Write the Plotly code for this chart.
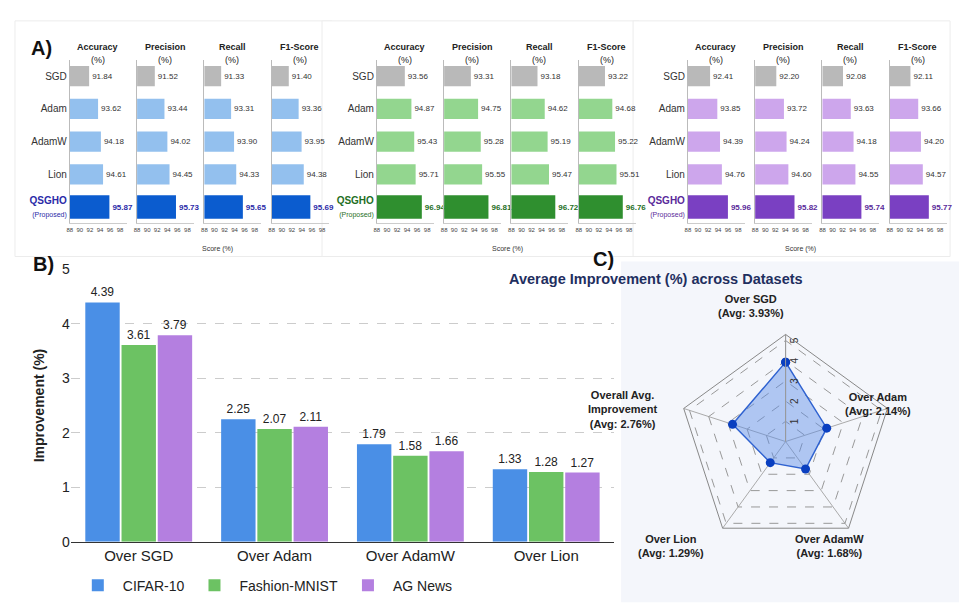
import plotly.graph_objects as go

W, H = 967, 611
metrics = ["Accuracy", "Precision", "Recall", "F1-Score"]
optimizers = ["SGD", "Adam", "AdamW", "Lion", "QSGHO"]
cifar = [[91.84, 91.52, 91.33, 91.40], [93.62, 93.44, 93.31, 93.36], [94.18, 94.02, 93.90, 93.95],
         [94.61, 94.45, 94.33, 94.38], [95.87, 95.73, 95.65, 95.69]]
fmnist = [[93.56, 93.31, 93.18, 93.22], [94.87, 94.75, 94.62, 94.68], [95.43, 95.28, 95.19, 95.22],
          [95.71, 95.55, 95.47, 95.51], [96.94, 96.81, 96.72, 96.76]]
agnews = [[92.41, 92.20, 92.08, 92.11], [93.85, 93.72, 93.63, 93.66], [94.39, 94.24, 94.18, 94.20],
          [94.76, 94.60, 94.55, 94.57], [95.96, 95.82, 95.74, 95.77]]
score_ticks = [88, 90, 92, 94, 96, 98]

comparisons = ["Over SGD", "Over Adam", "Over AdamW", "Over Lion"]
imp_cifar = [4.39, 2.25, 1.79, 1.33]
imp_fmnist = [3.61, 2.07, 1.58, 1.28]
imp_agnews = [3.79, 2.11, 1.66, 1.27]

radar_labels = ["Over SGD<br>(Avg: 3.93%)", "Over Adam<br>(Avg: 2.14%)", "Over AdamW<br>(Avg: 1.68%)",
                "Over Lion<br>(Avg: 1.29%)", "Overall Avg.<br>Improvement<br>(Avg: 2.76%)"]
radar_vals = [3.93, 2.14, 1.68, 1.29, 2.76]

def px(x): return x / W
def py(y): return 1 - y / H

fig = go.Figure()
FONT = "Liberation Sans"
groups = [(cifar, "#b9b9b9", "#93c0ee", "#0b5ccf", "#2a2aa8", 0),
          (fmnist, "#b9b9b9", "#93d68f", "#2f8f2f", "#1f6f1f", 308),
          (agnews, "#b9b9b9", "#cda6ec", "#7a40c2", "#5a2a9a", 620)]
shapes, annotations = [], []
k = 0
for data, cs, cm, cq, ct, off in groups:
    shapes.append(dict(type="rect", xref="paper", yref="paper", x0=px(off + 4), x1=px(off + 322),
                       y0=py(247), y1=py(5), fillcolor="white", line=dict(color="#ececec", width=1), layer="below"))
    for m in range(4):
        k += 1
        xa, ya = ("x%d" % k if k > 1 else "x"), ("y%d" % k if k > 1 else "y")
        vals = [data[i][m] for i in range(5)]
        colors = [cs, cm, cm, cm, cq]
        texts = [f"{v:.2f}" for v in vals[:4]] + [f"<b>{vals[4]:.2f}</b>"]
        fig.add_trace(go.Bar(x=vals, y=optimizers, orientation="h", marker=dict(color=colors, line=dict(width=0)),
                             width=[0.62] * 4 + [0.72],
                             text=texts, textposition="outside", cliponaxis=False,
                             textfont=dict(size=8, color=["#333"] * 4 + [ct], family=FONT),
                             xaxis=xa, yaxis=ya, showlegend=False))
        x0 = off + 59 + m * 67.5
        d = dict(domain=[px(x0), px(x0 + 57)], range=[88, 99.3], tickvals=score_ticks,
                 tickfont=dict(size=6, color="#444"), showgrid=False, zeroline=False,
                 showline=True, linecolor="#ccc", ticks="", anchor=ya)
        fig.layout["xaxis%d" % k if k > 1 else "xaxis"] = d
        qlab = (f"<span style='color:{ct}'><b>QSGHO</b></span><br>"
                f"<span style='font-size:7px;color:{ct}'>(Proposed)</span>")
        yd = dict(domain=[py(213), py(45)], autorange="reversed", showline=True, linecolor="#bbb",
                  showticklabels=(m == 0), tickfont=dict(size=10, color="#333"), anchor=xa, ticks="",
                  tickmode="array", tickvals=optimizers, ticktext=optimizers[:4] + [qlab])
        fig.layout["yaxis%d" % k if k > 1 else "yaxis"] = yd
        annotations.append(dict(x=px(x0 + 28), y=py(25), xref="paper", yref="paper",
                                text=f"<b>{metrics[m]}</b>", xanchor="center",
                                showarrow=False, font=dict(size=9, color="#222")))
        annotations.append(dict(x=px(x0 + 28), y=py(38), xref="paper", yref="paper",
                                text="(%)", xanchor="center",
                                showarrow=False, font=dict(size=9, color="#222")))
    annotations.append(dict(x=px(off + 190), y=py(239), xref="paper", yref="paper", text="Score (%)",
                            showarrow=False, font=dict(size=7, color="#333")))

# Panel B
for vals, name, col in [(imp_cifar, "CIFAR-10", "#4a8fe6"), (imp_fmnist, "Fashion-MNIST", "#6cc263"),
                        (imp_agnews, "AG News", "#b47fe0")]:
    fig.add_trace(go.Bar(x=comparisons, y=vals, name=name, marker=dict(color=col, line=dict(width=0)),
                         text=[f"{v:.2f}" for v in vals], textposition="outside", cliponaxis=False,
                         textfont=dict(size=12, color="#222", family=FONT), xaxis="x13", yaxis="y13"))
fig.layout.xaxis13 = dict(domain=[px(60), px(605)], anchor="y13", tickfont=dict(size=15, color="#222"),
                          showline=True, linecolor="#333", ticks="")
fig.layout.yaxis13 = dict(domain=[py(540), py(260)], anchor="x13", range=[0, 5], dtick=1,
                          showgrid=True, gridcolor="#ccc", griddash="dash", zeroline=False,
                          tickfont=dict(size=14, color="#222"), showline=False,
                          title=dict(text="<b>Improvement (%)</b>", font=dict(size=14, color="#222"), standoff=14))
fig.update_layout(barmode="group", bargap=0.2, bargroupgap=0.05,
                  legend=dict(orientation="h", x=px(62), y=py(585), xanchor="left", yanchor="middle",
                              font=dict(size=14, color="#222"), itemwidth=40, bgcolor="rgba(0,0,0,0)"))

# Panel C
shapes.append(dict(type="rect", xref="paper", yref="paper", x0=px(612), x1=px(962), y0=py(602), y1=py(252),
                   fillcolor="#f4f6fb", line=dict(width=0), layer="below"))
fig.add_trace(go.Scatterpolar(r=radar_vals + radar_vals[:1], theta=optimizers + optimizers[:1],
                              fill="toself", fillcolor="rgba(90,140,230,0.45)",
                              line=dict(color="#2f62d0", width=1.5), marker=dict(size=9, color="#0a3fc0"),
                              mode="lines+markers", showlegend=False, subplot="polar"))
cx, cy, R = 777, 437, 110
fig.update_layout(polar=dict(domain=dict(x=[px(cx - R), px(cx + R)], y=[py(cy + R), py(cy - R)]),
                             gridshape="linear", bgcolor="rgba(0,0,0,0)",
                             radialaxis=dict(range=[0, 5.3], tickvals=[1, 2, 3, 4, 5], angle=90, tickangle=0,
                                             gridcolor="#999", griddash="dash", linecolor="#999",
                                             tickfont=dict(size=10, color="#333"), showline=True),
                             angularaxis=dict(rotation=90, direction="clockwise", linecolor="#888",
                                              gridcolor="#aaa", showticklabels=False)))
label_pos = [(777, 298), (905, 398), (858, 560), (697, 560), (650, 404)]
for t, (x, y) in zip(radar_labels, label_pos):
    annotations.append(dict(x=px(x), y=py(y), xref="paper", yref="paper", text=f"<b>{t}</b>",
                            showarrow=False, font=dict(size=11, color="#222")))
annotations.append(dict(x=px(796), y=py(270), xref="paper", yref="paper",
                        text="<b>Average Improvement (%) across Datasets</b>", showarrow=False,
                        font=dict(size=14.5, color="#1f2f5f")))
for t, x, y in [("A)", 18, 20), ("B)", 20, 255), ("C)", 594, 250)]:
    annotations.append(dict(x=px(x), y=py(y), xref="paper", yref="paper", text=f"<b>{t}</b>", showarrow=False,
                            font=dict(size=20, color="#111")))
fig.update_layout(width=W, height=H, margin=dict(l=0, r=0, t=0, b=0), paper_bgcolor="white",
                  plot_bgcolor="rgba(0,0,0,0)", font=dict(family=FONT), shapes=shapes, annotations=annotations)
fig.write_html("out.html")
